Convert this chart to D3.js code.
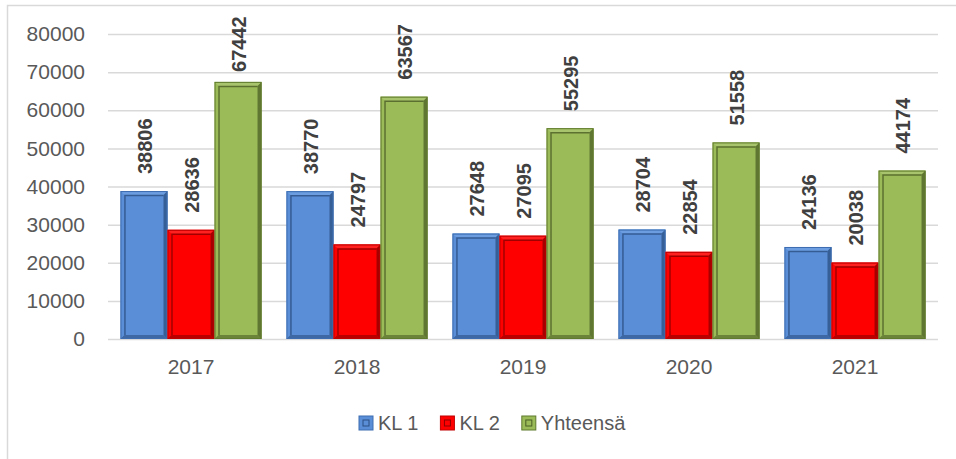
<!DOCTYPE html>
<html>
<head>
<meta charset="utf-8">
<script src="https://cdn.jsdelivr.net/npm/d3@7"></script>
<style>
  body { margin: 0; background: #fff; }
  .chart text { font-family: "Liberation Sans", Arial, sans-serif; }
</style>
</head>
<body>
<div class="chart"></div>
<script>
// data
var years = ["2017", "2018", "2019", "2020", "2021"];
var kl1 = [38806, 38770, 27648, 28704, 24136];
var kl2 = [28636, 24797, 27095, 22854, 20038];
var total = [67442, 63567, 55295, 51558, 44174];
var seriesNames = ["KL 1", "KL 2", "Yhteensä"];
var yTicks = [0, 10000, 20000, 30000, 40000, 50000, 60000, 70000, 80000];

var svgWidth = 956;
var svgHeight = 459;

var margin = { top: 34, right: 18, bottom: 120, left: 108 };
var width = svgWidth - margin.left - margin.right;
var height = svgHeight - margin.top - margin.bottom;

var colors = [
  { base: "#5a8fd8", light: "#6b9de0", dark: "#2c4f82", edge: "#3d6db0" },
  { base: "#ff0000", light: "#ff2020", dark: "#8a0000", edge: "#c00000" },
  { base: "#9bbb59", light: "#a8c46c", dark: "#4b5e25", edge: "#5f7a2c" }
];

var svg = d3.select(".chart")
  .append("svg")
  .attr("width", svgWidth)
  .attr("height", svgHeight);

// outer chart frame
svg.append("rect")
  .attr("x", 7.5).attr("y", 5.5)
  .attr("width", 1000).attr("height", 1000)
  .attr("fill", "none")
  .attr("stroke", "#d9d9d9")
  .attr("stroke-width", 1.5);

var chartGroup = svg.append("g")
  .attr("transform", `translate(${margin.left}, ${margin.top})`);

var yScale = d3.scaleLinear().domain([0, 80000]).range([height, 0]);
var x0 = d3.scaleBand().domain(years).range([0, width]).paddingInner(0.15).paddingOuter(0.075);
var x1 = d3.scaleBand().domain(d3.range(3)).range([0, x0.bandwidth()]);

// gridlines + y tick labels
var yAxis = chartGroup.append("g")
  .call(d3.axisLeft(yScale).tickValues(yTicks).tickSize(-width).tickPadding(23).tickFormat(d3.format("d")));
yAxis.select(".domain").remove();
yAxis.selectAll("line").attr("stroke", "#d9d9d9").attr("stroke-width", 1.5);
yAxis.selectAll("text")
  .attr("fill", "#595959")
  .style("font-size", "21px");

// x labels
var xAxis = chartGroup.append("g")
  .attr("transform", `translate(0, ${height})`)
  .call(d3.axisBottom(x0).tickSize(0).tickPadding(20));
xAxis.select(".domain").remove();
xAxis.selectAll("text")
  .attr("fill", "#595959")
  .style("font-size", "21px");

var rows = [];
years.forEach(function(y, i) {
  [kl1[i], kl2[i], total[i]].forEach(function(v, s) {
    rows.push({ year: y, s: s, value: v });
  });
});

var bev = 4;
var bars = chartGroup.selectAll(".bar")
  .data(rows)
  .enter()
  .append("g")
  .attr("class", "bar")
  .attr("transform", d => `translate(${x0(d.year) + x1(d.s)}, ${yScale(d.value)})`);

bars.each(function(d) {
  var g = d3.select(this);
  var w = x1.bandwidth();
  var h = height - yScale(d.value);
  var c = colors[d.s];
  g.append("rect").attr("width", w).attr("height", h).attr("fill", c.base);
  // bevel bands
  g.append("polygon").attr("fill", c.light)
    .attr("points", [[0, 0], [w, 0], [w - bev, bev], [bev, bev]].join(" "));
  g.append("polygon").attr("fill", c.dark).attr("opacity", 0.75)
    .attr("points", [[w, 0], [w, h], [w - bev, h - bev], [w - bev, bev]].join(" "));
  g.append("polygon").attr("fill", c.dark).attr("opacity", 0.6)
    .attr("points", [[0, h], [w, h], [w - bev, h - bev], [bev, h - bev]].join(" "));
  // inner shadow lines on the panel's left and top
  g.append("path")
    .attr("d", `M${bev + 0.5},${h - bev} V${bev + 0.5} H${w - bev}`)
    .attr("fill", "none").attr("stroke", c.dark).attr("stroke-width", 1.5).attr("opacity", 0.8);
  g.append("rect")
    .attr("x", 0.5).attr("y", 0.5).attr("width", w - 1).attr("height", Math.max(0, h - 1))
    .attr("fill", "none").attr("stroke", c.edge).attr("stroke-width", 1);
});

// value labels, rotated
chartGroup.selectAll(".val")
  .data(rows)
  .enter()
  .append("text")
  .attr("class", "val")
  .attr("transform", function(d) {
    var cx = x0(d.year) + x1(d.s) + x1.bandwidth() / 2 + 1;
    var top = yScale(d.value) - 17;
    if (d.value > 65000) top = yScale(d.value) - 10;
    return `translate(${cx}, ${top}) rotate(-90)`;
  })
  .attr("dominant-baseline", "central")
  .attr("fill", "#404040")
  .style("font-size", "20px")
  .style("font-weight", "bold")
  .text(d => d.value);

// legend
var legend = svg.append("g").attr("transform", "translate(359, 423)");
var lx = 0;
seriesNames.forEach(function(name, i) {
  var item = legend.append("g").attr("transform", `translate(${lx}, 0)`);
  var c = colors[i];
  item.append("rect").attr("x", 0).attr("y", -7).attr("width", 14).attr("height", 14)
    .attr("fill", c.base).attr("stroke", c.edge);
  item.append("rect").attr("x", 4).attr("y", -3).attr("width", 6).attr("height", 6)
    .attr("fill", "none").attr("stroke", c.dark).attr("stroke-width", 1);
  var t = item.append("text").attr("x", 19).attr("dominant-baseline", "central")
    .attr("fill", "#595959").style("font-size", "20px").text(name);
  lx += 19 + t.node().getComputedTextLength() + 22;
});
</script>
</body>
</html>
